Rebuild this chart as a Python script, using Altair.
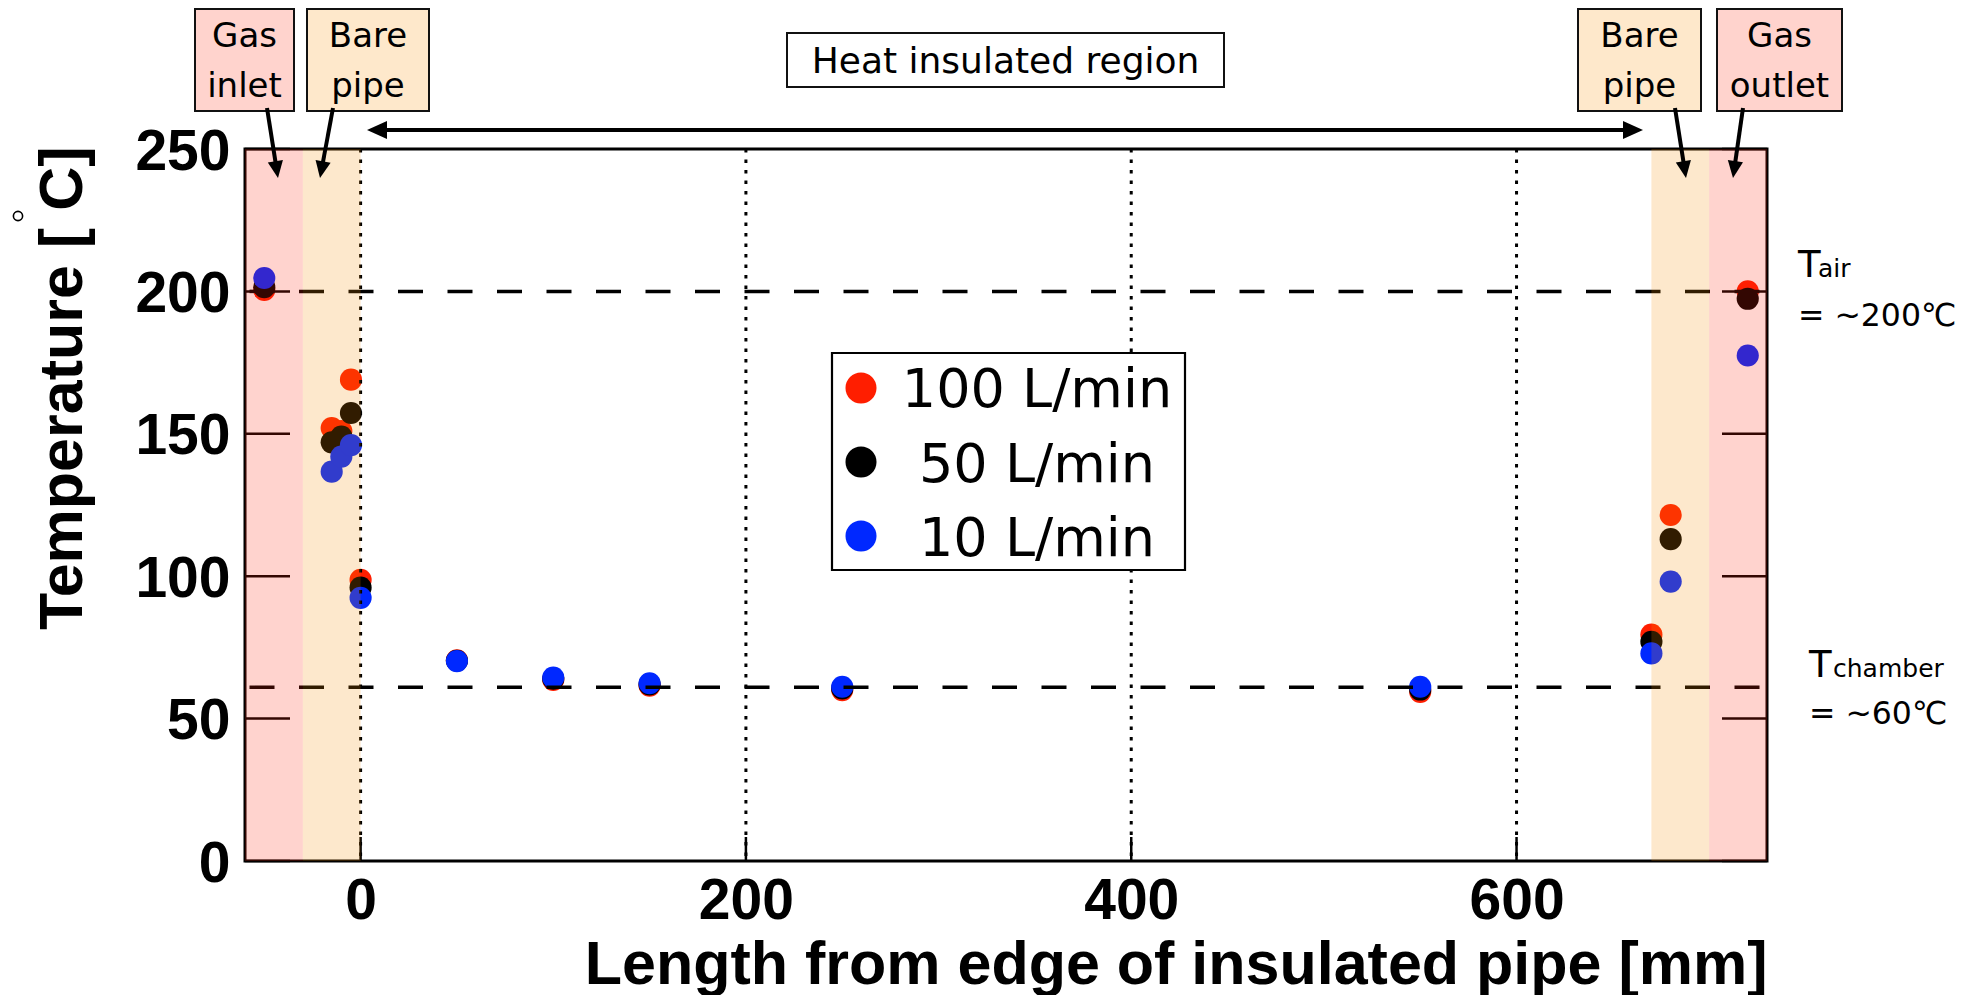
import math
import altair as alt
import pandas as pd

# ---------------- data ----------------
positions_mm = [-50, -15, -10, -5, 0, 50, 100, 150, 250, 550, 670, 680, 720]
temp_100 = [200.5, 152.0, 151.0, 169.0, 98.7, 70.5, 63.6, 61.6, 60.0, 59.4, 79.5, 121.5, 200.0]
temp_50 = [201.5, 147.0, 149.0, 157.3, 96.0, 70.3, 64.0, 62.0, 60.6, 60.2, 77.0, 113.0, 197.4]
temp_10 = [204.7, 136.7, 142.0, 146.0, 92.4, 70.2, 64.4, 62.4, 61.2, 61.2, 72.9, 98.1, 177.5]
series_names = ["100 L/min", "50 L/min", "10 L/min"]
series_colors = ["#FF1E00", "#000000", "#0028FF"]

x_ticks = [0, 200, 400, 600]
y_ticks = [0, 50, 100, 150, 200, 250]
x_domain = [-60, 730]
y_domain = [0, 250]
ref_temps = [200, 61]          # T_air, T_chamber

region_start = [-60, -30, 670, 700]
region_end = [-30, 0, 700, 730]
region_fill = ["#FF230A", "#F58C00", "#F58C00", "#FF230A"]

# ---------------- layout helpers ----------------
W, H = 1522, 712
LEFT, TOP = 245, 149           # page position of plot origin


def mx(px):
    return x_domain[0] + (px - LEFT) * (x_domain[1] - x_domain[0]) / W


def ty(py):
    return (TOP + H - py) * (y_domain[1] - y_domain[0]) / H


xs = alt.Scale(domain=x_domain, nice=False, zero=False)
ys = alt.Scale(domain=y_domain, nice=False, zero=False)
cs = alt.Scale(domain=series_names, range=series_colors)

BOLD = "Liberation Sans"
REG = "DejaVu Sans"

ax_x = alt.Axis(values=x_ticks, title="Length from edge of insulated pipe [mm]",
                labelFont=BOLD, labelFontWeight="bold", labelFontSize=57, labelColor="black",
                labelPadding=12, labelFlush=False, labelOverlap=False,
                ticks=False, domain=False, grid=False,
                titleFont=BOLD, titleFontWeight="bold", titleFontSize=61, titleColor="black",
                titleAlign="right", titleX=W, titleY=122, titleBaseline="alphabetic")
ax_y = alt.Axis(values=y_ticks, title="Temperature [ C]",
                labelFont=BOLD, labelFontWeight="bold", labelFontSize=57, labelColor="black",
                labelPadding=15, labelFlush=False, labelOverlap=False, labelOffset=3,
                ticks=False, domain=False, grid=False,
                titleFont=BOLD, titleFontWeight="bold", titleFontSize=61, titleColor="black",
                titleAngle=270, titleAlign="right", titleX=-164, titleY=-3,
                titleBaseline="alphabetic")


def X(f):
    return alt.X(f, type="quantitative", scale=xs, axis=ax_x)


def Y(f):
    return alt.Y(f, type="quantitative", scale=ys, axis=ax_y)


# ---------------- tables ----------------
rows = []
for name, vals in zip(series_names, [temp_100, temp_50, temp_10]):
    for xv, tv in zip(positions_mm, vals):
        rows.append({"x": xv, "T": tv, "series": name})
pts = pd.DataFrame(rows)

grid_df = pd.DataFrame({"x": x_ticks, "y1": 0, "y2": ty(861 - 24)})
ref_df = pd.DataFrame({"T": ref_temps, "x1": x_domain[0], "x2": x_domain[1]})
ytick_df = pd.DataFrame({"T": y_ticks})
ytick_df["l1"] = x_domain[0]
ytick_df["l2"] = mx(LEFT + 45)
ytick_df["r1"] = mx(LEFT + W - 45)
ytick_df["r2"] = x_domain[1]
frame_df = pd.DataFrame({"x1": [x_domain[0]], "x2": [x_domain[1]], "y1": [0], "y2": [250]})
region_df = pd.DataFrame({"x1": region_start, "x2": region_end, "c": region_fill,
                          "y1": 0, "y2": 250})

leg_box = pd.DataFrame({"x1": [mx(832)], "x2": [mx(1185)], "y1": [ty(353)], "y2": [ty(570)]})
leg_df = pd.DataFrame({
    "series": series_names,
    "cx": [mx(861)] * 3,
    "cy": [ty(388 + 74 * i) for i in range(3)],
    "tx": [mx(1037)] * 3,
    "tyy": [ty(407 + 74.5 * i) for i in range(3)],
})

boxes = [(195, 294, 9, 111, "#FFD3CD"), (307, 429, 9, 111, "#FEE8CB"),
         (1578, 1701, 9, 111, "#FEE8CB"), (1717, 1842, 9, 111, "#FFD3CD"),
         (787, 1224, 33, 87, "#FFFFFF")]
box_df = pd.DataFrame([{"x1": mx(a), "x2": mx(b), "y1": ty(c), "y2": ty(d), "c": f}
                       for a, b, c, d, f in boxes])

center_texts = [("Gas", 244.5, 47, 34), ("inlet", 244.5, 97, 34),
                ("Bare", 368, 47, 34), ("pipe", 368, 97, 34),
                ("Bare", 1639.5, 47, 34), ("pipe", 1639.5, 97, 34),
                ("Gas", 1779.5, 47, 34), ("outlet", 1779.5, 97, 34),
                ("Heat insulated region", 1005.5, 73, 36)]
ctext_df = pd.DataFrame([{"t": t, "x": mx(a), "y": ty(b), "s": s} for t, a, b, s in center_texts])

left_texts = [("T", 1798, 276.5, 37), ("air", 1818, 276.5, 25), ("= ~200℃", 1798, 326, 31.5),
              ("T", 1809, 676.5, 37), ("chamber", 1833, 676.5, 25), ("= ~60℃", 1809, 723.5, 31.5)]
ltext_df = pd.DataFrame([{"t": t, "x": mx(a), "y": ty(b), "s": s} for t, a, b, s in left_texts])

arrows = [(267, 108, 278, 178, 17), (333, 108, 320, 178, 17),
          (1675, 108, 1686, 178, 17), (1743, 108, 1733, 178, 17),
          (1005, 130, 367, 130, 20), (1005, 130, 1643, 130, 20)]
shaft_rows, head_rows = [], []
for x1, y1, x2, y2, hl in arrows:
    dx, dy = x2 - x1, y2 - y1
    n = math.hypot(dx, dy)
    ux, uy = dx / n, dy / n
    bx, by = x2 - ux * (hl - 2), y2 - uy * (hl - 2)
    shaft_rows.append({"x1": mx(x1), "y1": ty(y1), "x2": mx(bx), "y2": ty(by)})
    cxp, cyp = x2 - ux * hl / 2, y2 - uy * hl / 2
    ang = math.degrees(math.atan2(-ux, uy)) % 360
    head_rows.append({"x": mx(cxp), "y": ty(cyp), "a": ang, "s": hl * hl})
shaft_df = pd.DataFrame(shaft_rows)
head_df = pd.DataFrame(head_rows)

deg_df = pd.DataFrame({"x": [mx(18)], "y": [ty(216)]})

# ---------------- layers ----------------
points = alt.Chart(pts).mark_circle(size=490, opacity=1).encode(
    x=X("x"), y=Y("T"), color=alt.Color("series:N", scale=cs, legend=None))

grid = alt.Chart(grid_df).mark_rule(color="black", strokeWidth=3, strokeDash=[3.5, 7]).encode(
    x=X("x"), y=alt.value(0), y2=alt.value(H))

bticks = alt.Chart(grid_df).mark_rule(color="black", strokeWidth=2.5).encode(
    x=X("x"), y=Y("y1"), y2=alt.Y2("y2"))

reflines = alt.Chart(ref_df).mark_rule(color="black", strokeWidth=3.5, strokeDash=[25, 24.5],
                                       strokeDashOffset=45).encode(
    y=Y("T"), x=X("x1"), x2=alt.X2("x2"))

lticks = alt.Chart(ytick_df).mark_rule(color="black", strokeWidth=2.5).encode(
    y=Y("T"), x=X("l1"), x2=alt.X2("l2"))
rticks = alt.Chart(ytick_df).mark_rule(color="black", strokeWidth=2.5).encode(
    y=Y("T"), x=X("r1"), x2=alt.X2("r2"))

frame = alt.Chart(frame_df).mark_rect(fillOpacity=0, stroke="black", strokeWidth=3).encode(
    x=X("x1"), x2=alt.X2("x2"), y=Y("y1"), y2=alt.Y2("y2"))

regions = alt.Chart(region_df).mark_rect(opacity=0.2).encode(
    x=X("x1"), x2=alt.X2("x2"), y=Y("y1"), y2=alt.Y2("y2"), fill=alt.Fill("c:N", scale=None))

legbox = alt.Chart(leg_box).mark_rect(fill="white", stroke="black", strokeWidth=2.2).encode(
    x=X("x1"), x2=alt.X2("x2"), y=Y("y1"), y2=alt.Y2("y2"))
legdots = alt.Chart(leg_df).mark_circle(size=962, opacity=1).encode(
    x=X("cx"), y=Y("cy"), color=alt.Color("series:N", scale=cs, legend=None))
legtext = alt.Chart(leg_df).mark_text(font=REG, fontSize=54, align="center",
                                      baseline="alphabetic", color="black").encode(
    x=X("tx"), y=Y("tyy"), text="series:N")

annboxes = alt.Chart(box_df).mark_rect(stroke="#111111", strokeWidth=2).encode(
    x=X("x1"), x2=alt.X2("x2"), y=Y("y1"), y2=alt.Y2("y2"), fill=alt.Fill("c:N", scale=None))
ctext = alt.Chart(ctext_df).mark_text(font=REG, align="center", baseline="alphabetic",
                                      color="black").encode(
    x=X("x"), y=Y("y"), text="t:N", size=alt.Size("s:Q", scale=None))
ltext = alt.Chart(ltext_df).mark_text(font=REG, align="left", baseline="alphabetic",
                                      color="black").encode(
    x=X("x"), y=Y("y"), text="t:N", size=alt.Size("s:Q", scale=None))

shafts = alt.Chart(shaft_df).mark_rule(color="black", strokeWidth=4).encode(
    x=X("x1"), y=Y("y1"), x2=alt.X2("x2"), y2=alt.Y2("y2"))
heads = alt.Chart(head_df).mark_point(shape="M-0.9,-1L0.9,-1L0,1Z", filled=True,
                                      color="black", opacity=1).encode(
    x=X("x"), y=Y("y"), angle=alt.Angle("a:Q", scale=None), size=alt.Size("s:Q", scale=None))

degree = alt.Chart(deg_df).mark_point(shape="circle", filled=False, color="black",
                                      strokeWidth=1.6, size=85, opacity=1).encode(
    x=X("x"), y=Y("y"))

chart = alt.layer(
    points, grid, bticks, reflines, lticks, rticks, frame, regions,
    legbox, legdots, legtext, annboxes, ctext, ltext, shafts, heads, degree
).properties(
    width=W, height=H,
    autosize=alt.AutoSizeParams(type="none"),
    padding={"left": LEFT - 8, "top": TOP - 8, "right": 200, "bottom": 140},
    background="white",
).configure_view(strokeWidth=0)

chart.save("out.html", embed_options={"renderer": "svg", "actions": False})
